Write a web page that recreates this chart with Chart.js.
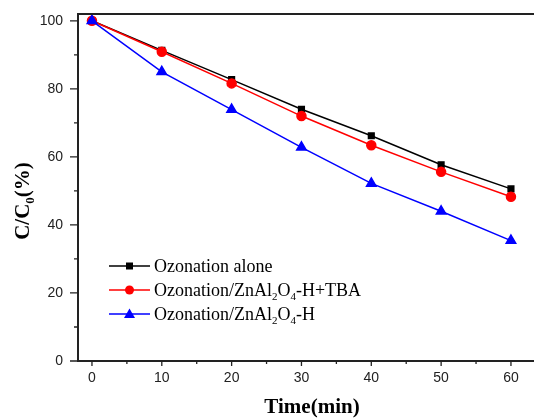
<!DOCTYPE html>
<html>
<head>
<meta charset="utf-8">
<script src="https://cdn.jsdelivr.net/npm/chart.js@4.4.1/dist/chart.umd.min.js"></script>
<style>
  html, body { margin: 0; padding: 0; background: #fff; overflow: hidden; }
  #wrap { width: 534px; height: 418px; position: relative; }
</style>
</head>
<body>
<div id="wrap"><canvas id="myChart"></canvas></div>
<script>
// reaction time (min)
var times = [0, 10, 20, 30, 40, 50, 60]
// C/C0 (%) for each run
var ozoneAlone = [100, 91.3, 82.7, 74.0, 66.2, 57.7, 50.6]
var ozoneTBA = [100, 90.9, 81.6, 72.0, 63.4, 55.6, 48.3]
var ozoneCat = [100, 85.0, 73.9, 62.8, 52.2, 44.0, 35.4]

var xTicks = [0, 10, 20, 30, 40, 50, 60]
var xMinor = [5, 15, 25, 35, 45, 55]
var yTicks = [0, 20, 40, 60, 80, 100]
var yMinor = [10, 30, 50, 70, 90]

// legend labels, pieces flagged true are subscripts
var legendText = [
    [['Ozonation alone', false]],
    [['Ozonation/ZnAl', false], ['2', true], ['O', false], ['4', true], ['-H+TBA', false]],
    [['Ozonation/ZnAl', false], ['2', true], ['O', false], ['4', true], ['-H', false]]
]

function pts(ys) {
    return times.map((t, i) => ({ x: t, y: ys[i] }))
}

function richText(ctx, parts, x, y, size, bold) {
    var w = bold ? 'bold ' : ''
    parts.forEach(p => {
        if (p[1]) {
            ctx.font = w + Math.round(size * 0.62) + 'px "Liberation Serif", "Times New Roman", serif'
            ctx.fillText(p[0], x, y + size * 0.22)
        } else {
            ctx.font = w + size + 'px "Liberation Serif", "Times New Roman", serif'
            ctx.fillText(p[0], x, y)
        }
        x += ctx.measureText(p[0]).width
    })
    return x
}

function richWidth(ctx, parts, size, bold) {
    var w = bold ? 'bold ' : ''
    var total = 0
    parts.forEach(p => {
        ctx.font = w + (p[1] ? Math.round(size * 0.62) : size) + 'px "Liberation Serif", "Times New Roman", serif'
        total += ctx.measureText(p[0]).width
    })
    return total
}

function marker(ctx, style, x, y, color) {
    ctx.fillStyle = color
    ctx.beginPath()
    if (style === 'rect') {
        ctx.rect(x - 3.5, y - 3.5, 7, 7)
    } else if (style === 'circle') {
        ctx.arc(x, y, 4.5, 0, Math.PI * 2)
    } else {
        ctx.moveTo(x, y - 5.5)
        ctx.lineTo(x + 5.5, y + 4)
        ctx.lineTo(x - 5.5, y + 4)
        ctx.closePath()
    }
    ctx.fill()
}

// fixed axis box, no extra room for overhanging labels
function fixBox(s, size) {
    if (s.isHorizontal()) s.height = size
    else s.width = size
    s.paddingTop = 0
    s.paddingBottom = 0
    s.paddingLeft = 0
    s.paddingRight = 0
}

var frame = {
    id: 'frame',
    afterDraw(chart) {
        var ctx = chart.ctx
        var a = chart.chartArea
        var sx = chart.scales.x
        var sy = chart.scales.y
        ctx.save()
        ctx.strokeStyle = '#222'
        ctx.lineWidth = 2
        // top border
        ctx.beginPath()
        ctx.moveTo(a.left - 1, a.top)
        ctx.lineTo(a.right, a.top)
        ctx.stroke()
        // outward tick marks
        ctx.lineWidth = 1.3
        ctx.beginPath()
        xTicks.forEach(v => {
            var px = sx.getPixelForValue(v)
            ctx.moveTo(px, a.bottom); ctx.lineTo(px, a.bottom + 5)
        })
        xMinor.forEach(v => {
            var px = sx.getPixelForValue(v)
            ctx.moveTo(px, a.bottom); ctx.lineTo(px, a.bottom + 3)
        })
        yTicks.forEach(v => {
            var py = sy.getPixelForValue(v)
            ctx.moveTo(a.left, py); ctx.lineTo(a.left - 8, py)
        })
        yMinor.forEach(v => {
            var py = sy.getPixelForValue(v)
            ctx.moveTo(a.left, py); ctx.lineTo(a.left - 4, py)
        })
        ctx.stroke()

        // axis titles
        ctx.fillStyle = '#000'
        ctx.textBaseline = 'alphabetic'
        ctx.font = 'bold 21px "Liberation Serif", "Times New Roman", serif'
        ctx.textAlign = 'center'
        ctx.fillText('Time(min)', 312, 413)
        ctx.textAlign = 'left'
        var yt = [['C/C', false], ['0', true], ['(%)', false]]
        var tw = richWidth(ctx, yt, 21, true)
        ctx.save()
        ctx.translate(29, 201)
        ctx.rotate(-Math.PI / 2)
        richText(ctx, yt, -tw / 2, 0, 21, true)
        ctx.restore()

        // legend
        var ds = chart.data.datasets
        ds.forEach((d, i) => {
            var y = 266 + i * 24
            ctx.strokeStyle = d.borderColor
            ctx.lineWidth = 1.5
            ctx.beginPath()
            ctx.moveTo(109, y); ctx.lineTo(150, y)
            ctx.stroke()
            marker(ctx, d.pointStyle, 129.5, y, d.borderColor)
            ctx.fillStyle = '#000'
            richText(ctx, legendText[i], 154, y + 6, 18, false)
        })
        ctx.restore()
    }
}

var ctx = document.getElementById('myChart')
var myChart = new Chart(ctx, {
    type: 'line',
    data: {
        datasets: [{
            label: 'Ozonation alone',
            data: pts(ozoneAlone),
            borderColor: '#000000',
            backgroundColor: '#000000',
            pointStyle: 'rect',
            pointRadius: 4,
            borderWidth: 1.5,
            order: 3
        }, {
            label: 'Ozonation/ZnAl2O4-H+TBA',
            data: pts(ozoneTBA),
            borderColor: '#ff0000',
            backgroundColor: '#ff0000',
            pointStyle: 'circle',
            pointRadius: 4.5,
            borderWidth: 1.5,
            order: 2
        }, {
            label: 'Ozonation/ZnAl2O4-H',
            data: pts(ozoneCat),
            borderColor: '#0000ff',
            backgroundColor: '#0000ff',
            pointStyle: 'triangle',
            pointRadius: 5.5,
            borderWidth: 1.5,
            order: 1
        }]
    },
    options: {
        responsive: true,
        maintainAspectRatio: false,
        animation: false,
        layout: { autoPadding: false, padding: { top: 14, right: 0, left: 0, bottom: 0 } },
        plugins: {
            legend: { display: false },
            tooltip: { enabled: false }
        },
        elements: { line: { tension: 0 }, point: { borderWidth: 0 } },
        scales: {
            x: {
                type: 'linear',
                min: -2,
                max: 63.3,
                afterBuildTicks: s => { s.ticks = xTicks.map(v => ({ value: v })) },
                afterFit: s => fixBox(s, 57),
                grid: { display: false, drawTicks: false },
                border: { display: true, color: '#222', width: 2 },
                ticks: {
                    padding: 9,
                    color: '#222',
                    font: { family: '"Liberation Sans", Arial, sans-serif', size: 14 }
                }
            },
            y: {
                type: 'linear',
                min: 0,
                max: 102,
                afterBuildTicks: s => { s.ticks = yTicks.map(v => ({ value: v })) },
                afterFit: s => fixBox(s, 78),
                grid: { display: false, drawTicks: false },
                border: { display: true, color: '#222', width: 2 },
                ticks: {
                    padding: 15,
                    color: '#222',
                    font: { family: '"Liberation Sans", Arial, sans-serif', size: 14 }
                }
            }
        }
    },
    plugins: [frame]
});
</script>
</body>
</html>
